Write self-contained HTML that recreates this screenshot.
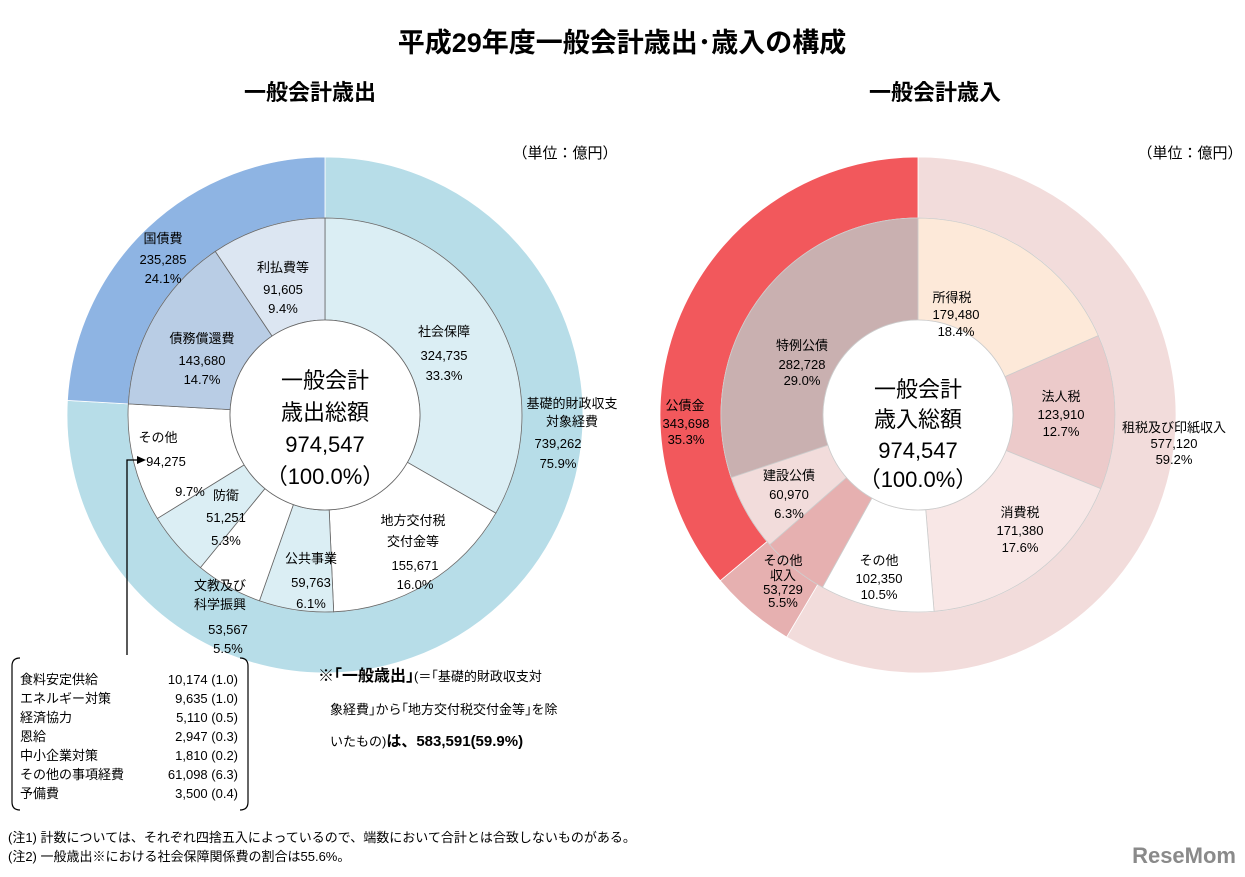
<!DOCTYPE html>
<html><head><meta charset="utf-8"><style>
html,body{margin:0;padding:0;background:#fff;}
body{width:1245px;height:877px;position:relative;overflow:hidden;font-family:"Liberation Sans","Noto Sans CJK JP",sans-serif;color:#000;}
svg{position:absolute;left:0;top:0;}
</style></head><body>
<svg id="s" width="1245" height="877" xmlns="http://www.w3.org/2000/svg" font-family="Liberation Sans, Noto Sans CJK JP, sans-serif">
<g id="g"></g>
<text x="622" y="52" font-size="27" font-weight="bold" text-anchor="middle">平成29年度一般会計歳出･歳入の構成</text>
<text x="310" y="100" font-size="22" font-weight="bold" text-anchor="middle">一般会計歳出</text>
<text x="935" y="100" font-size="22" font-weight="bold" text-anchor="middle">一般会計歳入</text>
<text x="565" y="158" font-size="15" text-anchor="middle">（単位：億円）</text>
<text x="1190" y="158" font-size="15" text-anchor="middle">（単位：億円）</text>
<g font-size="13" text-anchor="middle">
<text x="163" y="243">国債費</text><text x="163" y="264">235,285</text><text x="163" y="283">24.1%</text>
<text x="283" y="272">利払費等</text><text x="283" y="294">91,605</text><text x="283" y="313">9.4%</text>
<text x="202" y="343">債務償還費</text><text x="202" y="365">143,680</text><text x="202" y="384">14.7%</text>
<text x="444" y="336">社会保障</text><text x="444" y="360">324,735</text><text x="444" y="380">33.3%</text>
<text x="572" y="408">基礎的財政収支</text><text x="572" y="426">対象経費</text><text x="558" y="448">739,262</text><text x="558" y="468">75.9%</text>
<text x="158" y="442">その他</text><text x="166" y="466">94,275</text><text x="190" y="496">9.7%</text>
<text x="226" y="500">防衛</text><text x="226" y="522">51,251</text><text x="226" y="545">5.3%</text>
<text x="413" y="525">地方交付税</text><text x="413" y="546">交付金等</text><text x="415" y="570">155,671</text><text x="415" y="589">16.0%</text>
<text x="311" y="563">公共事業</text><text x="311" y="587">59,763</text><text x="311" y="608">6.1%</text>
<text x="220" y="590">文教及び</text><text x="220" y="609">科学振興</text><text x="228" y="634">53,567</text><text x="228" y="653">5.5%</text>
<text x="952" y="302">所得税</text><text x="956" y="319">179,480</text><text x="956" y="336">18.4%</text>
<text x="802" y="350">特例公債</text><text x="802" y="369">282,728</text><text x="802" y="385">29.0%</text>
<text x="685" y="410">公債金</text><text x="686" y="428">343,698</text><text x="686" y="444">35.3%</text>
<text x="1061" y="401">法人税</text><text x="1061" y="419">123,910</text><text x="1061" y="436">12.7%</text>
<text x="1174" y="432">租税及び印紙収入</text><text x="1174" y="448">577,120</text><text x="1174" y="464">59.2%</text>
<text x="789" y="480">建設公債</text><text x="789" y="499">60,970</text><text x="789" y="518">6.3%</text>
<text x="1020" y="517">消費税</text><text x="1020" y="535">171,380</text><text x="1020" y="552">17.6%</text>
<text x="879" y="565">その他</text><text x="879" y="583">102,350</text><text x="879" y="599">10.5%</text>
<text x="783" y="565">その他</text><text x="783" y="580">収入</text><text x="783" y="594">53,729</text><text x="783" y="607">5.5%</text>
</g>
<g font-size="22" text-anchor="middle">
<text x="325" y="388">一般会計</text><text x="325" y="420">歳出総額</text><text x="325" y="452">974,547</text><text x="325" y="484">（100.0%）</text>
<text x="918" y="397">一般会計</text><text x="918" y="427">歳入総額</text><text x="918" y="458">974,547</text><text x="918" y="487">（100.0%）</text>
</g>
<path d="M127,655 V460 H138" fill="none" stroke="#000" stroke-width="1.3"/>
<path d="M146,460 l-9,-4 v8z" fill="#000"/>
<path d="M20,658 q-8,0 -8,8 v136 q0,8 8,8 M240,658 q8,0 8,8 v136 q0,8 -8,8" fill="none" stroke="#000" stroke-width="1.2"/>
<g font-size="13">
<text x="20" y="684">食料安定供給</text><text x="20" y="703">エネルギー対策</text><text x="20" y="722">経済協力</text><text x="20" y="741">恩給</text><text x="20" y="760">中小企業対策</text><text x="20" y="779">その他の事項経費</text><text x="20" y="798">予備費</text>
<g text-anchor="end"><text x="238" y="684">10,174 (1.0)</text><text x="238" y="703">9,635 (1.0)</text><text x="238" y="722">5,110 (0.5)</text><text x="238" y="741">2,947 (0.3)</text><text x="238" y="760">1,810 (0.2)</text><text x="238" y="779">61,098 (6.3)</text><text x="238" y="798">3,500 (0.4)</text></g>
</g>
<text x="318" y="681" font-size="16" font-weight="bold">※｢一般歳出｣<tspan font-size="13" font-weight="normal">(＝｢基礎的財政収支対</tspan></text>
<text x="330" y="714" font-size="13">象経費｣から｢地方交付税交付金等｣を除</text>
<text x="330" y="746" font-size="13">いたもの)<tspan font-size="15" font-weight="bold">は、583,591(59.9%)</tspan></text>
<text x="8" y="842" font-size="13">(注1) 計数については、それぞれ四捨五入によっているので、端数において合計とは合致しないものがある。</text>
<text x="8" y="861" font-size="13">(注2) 一般歳出※における社会保障関係費の割合は55.6%。</text>
<text x="1236" y="863" font-size="22" font-weight="bold" fill="#8a8a8a" text-anchor="end">ReseMom</text>
</svg>
<script>
function arc(cx,cy,r1,r2,a0,a1,fill){
 const rad=a=>(a-90)*Math.PI/180;
 const p=(r,a)=>[cx+r*Math.cos(rad(a)),cy+r*Math.sin(rad(a))];
 const L=(a1-a0)>180?1:0;
 const [x1,y1]=p(r2,a0),[x2,y2]=p(r2,a1),[x3,y3]=p(r1,a1),[x4,y4]=p(r1,a0);
 return `<path d="M${x1},${y1} A${r2},${r2} 0 ${L} 1 ${x2},${y2} L${x3},${y3} A${r1},${r1} 0 ${L} 0 ${x4},${y4}Z" fill="${fill}" stroke="#888" stroke-width="0.8"/>`;
}
let h='';
function ring(cx,cy,r1,r2,data,sc){let a=0;for(const [v,c] of data){const b=a+v*3.6;h+=arc(cx,cy,r1,r2,a,Math.min(b,359.999),c).replace(/stroke="[^"]*"/,'stroke="'+(sc||'#888')+'"');a=b;}}
ring(325,415,197,258,[[75.9,'#b7dde8'],[24.1,'#8eb4e3']],'#fff');
ring(325,415,95,197,[[33.3,'#dbeef4'],[16.0,'#fff'],[6.1,'#dbeef4'],[5.5,'#fff'],[5.3,'#dbeef4'],[9.7,'#fff'],[14.7,'#b9cde5'],[9.4,'#dce6f2']],'#666');
ring(918,415,197,258,[[58.5,'#f2dcdb'],[5.4,'#e6b0b0'],[36.1,'#f2585c']],'#fff');
ring(918,415,95,197,[[18.4,'#fde9d9'],[12.7,'#eccaca'],[17.6,'#f8e7e6'],[9.36,'#fff'],[5.5,'#e6b0b0'],[6.3,'#f2dcdb'],[30.14,'#c9b0b0']],'#ccc');
h+='<circle cx="325" cy="415" r="95" fill="#fff" stroke="#666" stroke-width="0.8"/>';
h+='<circle cx="918" cy="415" r="95" fill="#fff" stroke="#ccc" stroke-width="0.8"/>';
document.getElementById('g').innerHTML=h;
</script>
</body></html>
